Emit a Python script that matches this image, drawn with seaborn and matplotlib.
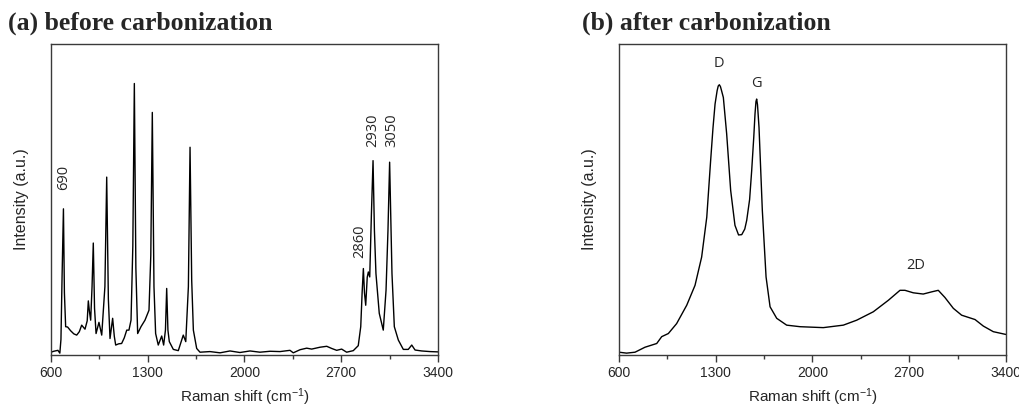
import matplotlib
matplotlib.use("Agg")
import matplotlib.pyplot as plt
import seaborn as sns
import pandas as pd

# Raman spectrum before carbonization (Raman shift in cm-1, intensity in a.u.)
shift_a = [600, 620, 650, 664, 672, 680, 690, 697, 706, 720, 742, 765, 786, 805,
           822, 846, 862, 870, 878, 887, 897, 906, 915, 926, 947, 967, 990, 1003,
           1015, 1027, 1046, 1058, 1068, 1090, 1111, 1130, 1148, 1164, 1179, 1192,
           1203, 1214, 1227, 1251, 1280, 1309, 1322, 1333, 1345, 1357, 1376, 1401,
           1415, 1428, 1437, 1446, 1456, 1485, 1521, 1557, 1575, 1594, 1606, 1618,
           1630, 1654, 1678, 1750, 1823, 1895, 1967, 2040, 2112, 2185, 2257, 2329,
           2353, 2402, 2450, 2486, 2546, 2595, 2631, 2667, 2703, 2739, 2787, 2823,
           2841, 2851, 2860, 2868, 2877, 2888, 2896, 2906, 2918, 2930, 2940, 2951,
           2975, 3004, 3024, 3038, 3050, 3058, 3067, 3084, 3113, 3149, 3185, 3210,
           3234, 3282, 3342, 3400]
intensity_a = [0.9, 1.2, 1.5, 0.6, 5.0, 25.0, 47.0, 20.0, 9.1, 9.0, 7.8, 6.8, 6.4, 7.5,
               9.6, 8.3, 11.0, 17.4, 14.0, 11.2, 22.0, 36.0, 15.0, 6.9, 10.5, 6.4, 22.0, 57.2,
               18.0, 5.3, 11.8, 6.0, 3.2, 3.6, 3.7, 5.5, 8.0, 8.0, 11.2, 35.0,
               87.3, 28.0, 6.9, 9.1, 11.2, 14.4, 32.0, 78.0, 22.0, 6.9, 3.2, 6.1,
               3.2, 8.0, 21.4, 8.0, 4.3, 1.8, 1.4, 6.4, 4.3, 22.0, 66.8, 24.0,
               8.0, 2.1, 0.9, 1.1, 0.7, 1.3, 0.8, 1.3, 0.9, 1.2, 1.1, 1.5,
               0.7, 1.7, 2.2, 1.9, 2.5, 2.8, 2.1, 1.5, 1.9, 0.9, 1.4, 3.0,
               9.1, 20.0, 27.8, 20.0, 16.0, 25.0, 26.7, 25.1, 45.0, 62.5, 40.0, 26.2,
               13.4, 8.0, 20.8, 40.0, 62.0, 45.0, 26.2, 9.1, 4.8, 1.8, 1.8, 3.2,
               1.6, 1.3, 1.1, 1.0]

# Raman spectrum after carbonization
shift_b = [600, 655, 716, 788, 873, 909, 957, 1017, 1090, 1150, 1198, 1235, 1263,
           1280, 1295, 1310, 1318, 1326, 1334, 1342, 1355, 1379, 1408, 1439, 1465,
           1488, 1510, 1524, 1545, 1560, 1575, 1584, 1591, 1596, 1602, 1613, 1637,
           1664, 1693, 1741, 1813, 1910, 2078, 2223, 2320, 2440, 2549, 2633, 2669,
           2729, 2801, 2862, 2910, 2958, 3019, 3079, 3176, 3236, 3308, 3400]
intensity_b = [0.9, 0.6, 0.9, 2.5, 3.7, 5.9, 6.9, 10.1, 16.0, 22.4, 31.5, 44.3, 62.5,
               73.0, 80.7, 85.0, 86.5, 86.9, 86.3, 85.0, 82.8, 71.1, 52.9, 41.7, 38.6,
               38.7, 40.5, 43.3, 50.0, 59.3, 70.0, 77.5, 81.5, 82.3, 80.5, 73.2, 46.5,
               25.1, 15.5, 11.8, 9.6, 9.1, 8.8, 9.6, 11.2, 13.9, 17.6, 20.8, 20.8,
               20.0, 19.6, 20.3, 20.8, 18.5, 15.0, 12.8, 11.4, 9.3, 7.5, 6.6]

# Peak annotations
peaks_a_text = ["690", "2860", "2930", "3050"]
peaks_a_x = [694, 2836, 2925, 3065]
peaks_a_y = [53.0, 31.3, 67.0, 67.0]

bands_b_text = ["D", "G", "2D"]
bands_b_x = [1326, 1591, 2747]
bands_b_y = [93.6, 87.3, 28.8]

x_ticks = [600, 1300, 2000, 2700, 3400]
x_minor = [950, 1650, 2350, 3050]

sns.set_style("ticks")
plt.rcParams["font.family"] = ["Liberation Sans", "DejaVu Sans"]
plt.rcParams["mathtext.fontset"] = "custom"
plt.rcParams["mathtext.rm"] = "Liberation Sans"
plt.rcParams["mathtext.default"] = "regular"

W, H = 1020, 407
fig = plt.figure(figsize=(W / 100, H / 100), dpi=100)
ax_a = fig.add_axes([51 / W, 1 - 355 / H, 387 / W, 311 / H])
ax_b = fig.add_axes([619 / W, 1 - 355 / H, 387 / W, 311 / H])

df_a = pd.DataFrame({"shift": shift_a, "intensity": intensity_a})
df_b = pd.DataFrame({"shift": shift_b, "intensity": intensity_b})
sns.lineplot(data=df_a, x="shift", y="intensity", ax=ax_a, color="black",
             linewidth=1.0, estimator=None, sort=False)
sns.lineplot(data=df_b, x="shift", y="intensity", ax=ax_b, color="black",
             linewidth=1.0, estimator=None, sort=False)

for ax in (ax_a, ax_b):
    ax.set_xlim(600, 3400)
    ax.set_ylim(0, 100)
    ax.set_xticks(x_ticks)
    ax.set_xticklabels([str(t) for t in x_ticks])
    ax.set_xticks(x_minor, minor=True)
    ax.set_yticks([])
    for sp in ax.spines.values():
        sp.set_visible(True)
        sp.set_color("#3a3a3a")
        sp.set_linewidth(1.0)
    ax.tick_params(axis="x", which="major", direction="out", length=5,
                   width=1.0, color="#3a3a3a", labelsize=10, pad=3)
    ax.tick_params(axis="x", which="minor", direction="out", length=3,
                   width=1.0, color="#3a3a3a")
    ax.set_xlabel("Raman shift (cm$^{-1}$)", fontsize=11, labelpad=4.5)
    ax.set_ylabel("Intensity (a.u.)", fontsize=11.5, labelpad=16)

for t, x, y in zip(peaks_a_text, peaks_a_x, peaks_a_y):
    ax_a.text(x, y, t, rotation=90, ha="center", va="bottom", fontsize=10.5,
              family="Open Sans")
for t, x, y in zip(bands_b_text, bands_b_x, bands_b_y):
    ax_b.text(x, y, t, ha="center", va="center", fontsize=10.5, family="Open Sans")

title_kw = dict(family="Liberation Serif", fontweight="bold", fontsize=18.5,
                va="baseline", ha="left")
fig.text(8 / W, 1 - 30 / H, "(a) before carbonization", **title_kw)
fig.text(582 / W, 1 - 30 / H, "(b) after carbonization", **title_kw)

fig.savefig("out.png", dpi=100)
